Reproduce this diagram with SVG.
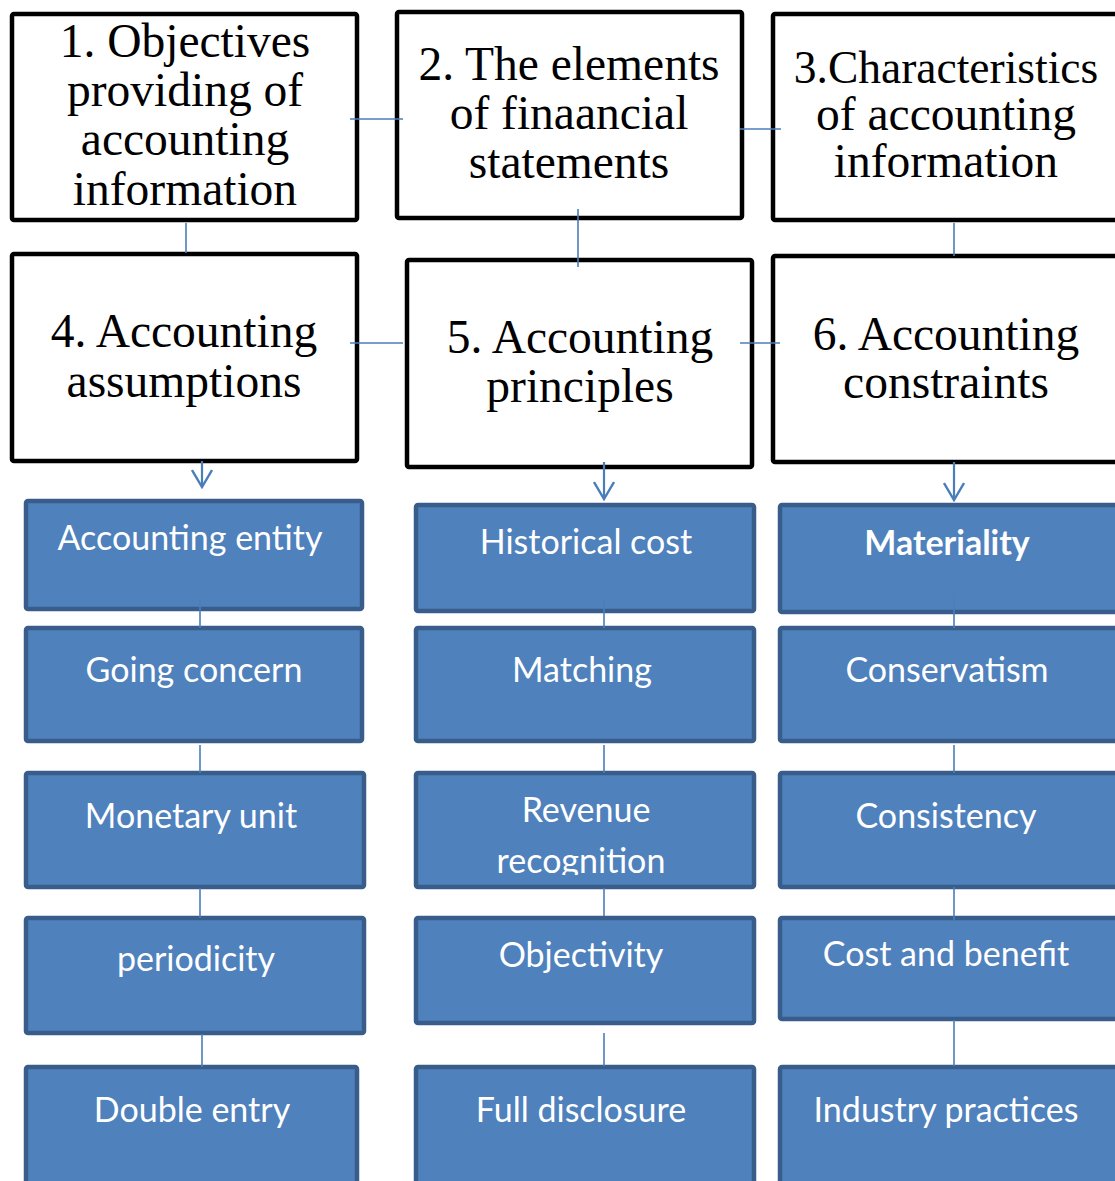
<svg xmlns="http://www.w3.org/2000/svg" width="1115" height="1181" viewBox="0 0 1115 1181">
  <style>
    .frame { fill: #ffffff; stroke: #000000; stroke-width: 4.5; }
    .frame-label { font-family: "Liberation Serif", "Times New Roman", serif; font-size: 47.5px; fill: #000000; text-anchor: middle; }
    .item { fill: #4f81bd; stroke: #385d8a; stroke-width: 4.5; }
    .item-label { font-family: Lato, "Open Sans", sans-serif; font-size: 34px; fill: #ffffff; text-anchor: middle; }
    .bold { font-weight: bold; }
    .link { fill: none; stroke: #4a7ebb; stroke-width: 1.6; }
    .arrow { fill: none; stroke: #4a7ebb; stroke-width: 2.2; }
  </style>
  <defs>
    <marker id="open-arrow" viewBox="0 0 20 22" refX="18" refY="11" markerWidth="20" markerHeight="22" markerUnits="userSpaceOnUse" orient="auto">
      <path d="M1,1 L18,11 L1,21" fill="none" stroke="#4a7ebb" stroke-width="2.4"/>
    </marker>
    <clipPath id="clip-revenue">
      <rect x="410" y="770" width="350" height="105"/>
    </clipPath>
  </defs>

  <!-- Top frames -->
  <g id="node-1">
    <rect class="frame" x="12" y="14" width="345" height="206" rx="2"/>
    <text class="frame-label" x="185" y="57">1. Objectives</text>
    <text class="frame-label" x="185" y="106">providing of</text>
    <text class="frame-label" x="185" y="155">accounting</text>
    <text class="frame-label" x="185" y="205">information</text>
  </g>
  <g id="node-2">
    <rect class="frame" x="397" y="12" width="345" height="206" rx="2"/>
    <text class="frame-label" x="569" y="80">2. The elements</text>
    <text class="frame-label" x="569" y="129">of finaancial</text>
    <text class="frame-label" x="569" y="178">statements</text>
  </g>
  <g id="node-3">
    <rect class="frame" x="773" y="14" width="350" height="206" rx="2"/>
    <text class="frame-label" x="946" y="83" style="font-size:45.5px">3.Characteristics</text>
    <text class="frame-label" x="946" y="130">of accounting</text>
    <text class="frame-label" x="946" y="177">information</text>
  </g>
  <g id="node-4">
    <rect class="frame" x="12" y="254" width="345" height="207" rx="2"/>
    <text class="frame-label" x="184" y="347">4. Accounting</text>
    <text class="frame-label" x="184" y="397">assumptions</text>
  </g>
  <g id="node-5">
    <rect class="frame" x="407" y="260" width="345" height="207" rx="2"/>
    <text class="frame-label" x="580" y="353">5. Accounting</text>
    <text class="frame-label" x="580" y="402">principles</text>
  </g>
  <g id="node-6">
    <rect class="frame" x="773" y="256" width="350" height="206" rx="2"/>
    <text class="frame-label" x="946" y="350">6. Accounting</text>
    <text class="frame-label" x="946" y="398">constraints</text>
  </g>

  <!-- Assumptions column -->
  <g id="accounting-entity">
    <rect class="item" x="26" y="501" width="336" height="108" rx="2"/>
    <text class="item-label" x="190" y="550">Accounting entity</text>
  </g>
  <g id="going-concern">
    <rect class="item" x="26" y="628" width="336" height="113" rx="2"/>
    <text class="item-label" x="194" y="682">Going concern</text>
  </g>
  <g id="monetary-unit">
    <rect class="item" x="26" y="773" width="338" height="114" rx="2"/>
    <text class="item-label" x="191" y="828">Monetary unit</text>
  </g>
  <g id="periodicity">
    <rect class="item" x="26" y="918" width="338" height="115" rx="2"/>
    <text class="item-label" x="196" y="971">periodicity</text>
  </g>
  <g id="double-entry">
    <rect class="item" x="26" y="1067" width="331" height="130" rx="2"/>
    <text class="item-label" x="192" y="1122">Double entry</text>
  </g>

  <!-- Principles column -->
  <g id="historical-cost">
    <rect class="item" x="416" y="505" width="338" height="106" rx="2"/>
    <text class="item-label" x="586" y="554">Historical cost</text>
  </g>
  <g id="matching">
    <rect class="item" x="416" y="628" width="338" height="113" rx="2"/>
    <text class="item-label" x="582" y="682">Matching</text>
  </g>
  <g id="revenue-recognition">
    <rect class="item" x="416" y="773" width="338" height="114" rx="2"/>
    <text class="item-label" x="586" y="822">Revenue</text>
    <text class="item-label" x="581" y="873" clip-path="url(#clip-revenue)">recognition</text>
  </g>
  <g id="objectivity">
    <rect class="item" x="416" y="918" width="338" height="105" rx="2"/>
    <text class="item-label" x="581" y="967">Objectivity</text>
  </g>
  <g id="full-disclosure">
    <rect class="item" x="416" y="1067" width="338" height="130" rx="2"/>
    <text class="item-label" x="581" y="1122">Full disclosure</text>
  </g>

  <!-- Constraints column -->
  <g id="materiality">
    <rect class="item" x="780" y="505" width="345" height="107" rx="2"/>
    <text class="item-label bold" x="947" y="555">Materiality</text>
  </g>
  <g id="conservatism">
    <rect class="item" x="780" y="628" width="345" height="113" rx="2"/>
    <text class="item-label" x="947" y="682">Conservatism</text>
  </g>
  <g id="consistency">
    <rect class="item" x="780" y="773" width="345" height="114" rx="2"/>
    <text class="item-label" x="946" y="828">Consistency</text>
  </g>
  <g id="cost-and-benefit">
    <rect class="item" x="780" y="918" width="345" height="101" rx="2"/>
    <text class="item-label" x="946" y="966">Cost and benefit</text>
  </g>
  <g id="industry-practices">
    <rect class="item" x="780" y="1067" width="345" height="130" rx="2"/>
    <text class="item-label" x="946" y="1122">Industry practices</text>
  </g>

  <!-- Connectors, drawn over the box edges they touch -->
  <g id="connectors">
    <line class="link" x1="350" y1="119" x2="403" y2="119"/>
    <line class="link" x1="740" y1="129" x2="781" y2="129"/>
    <line class="link" x1="186" y1="223" x2="186" y2="253"/>
    <line class="link" x1="578" y1="209" x2="578" y2="267"/>
    <line class="link" x1="954" y1="223" x2="954" y2="256"/>
    <line class="link" x1="350" y1="343" x2="403" y2="343"/>
    <line class="link" x1="740" y1="343" x2="780" y2="343"/>
    <!-- arrows into the blue columns -->
    <line class="arrow" x1="202" y1="461" x2="202" y2="487" marker-end="url(#open-arrow)"/>
    <line class="arrow" x1="604" y1="462" x2="604" y2="499" marker-end="url(#open-arrow)"/>
    <line class="arrow" x1="954" y1="462" x2="954" y2="500" marker-end="url(#open-arrow)"/>
    <!-- links between the blue items -->
    <line class="link" x1="200" y1="598" x2="200" y2="628"/>
    <line class="link" x1="200" y1="745" x2="200" y2="773"/>
    <line class="link" x1="200" y1="888" x2="200" y2="918"/>
    <line class="link" x1="202" y1="1034" x2="202" y2="1067"/>
    <line class="link" x1="604" y1="600" x2="604" y2="628"/>
    <line class="link" x1="604" y1="745" x2="604" y2="773"/>
    <line class="link" x1="604" y1="888" x2="604" y2="916"/>
    <line class="link" x1="604" y1="1033" x2="604" y2="1066"/>
    <line class="link" x1="954" y1="598" x2="954" y2="628"/>
    <line class="link" x1="954" y1="745" x2="954" y2="773"/>
    <line class="link" x1="954" y1="887" x2="954" y2="920"/>
    <line class="link" x1="954" y1="1020" x2="954" y2="1066"/>
  </g>
</svg>
